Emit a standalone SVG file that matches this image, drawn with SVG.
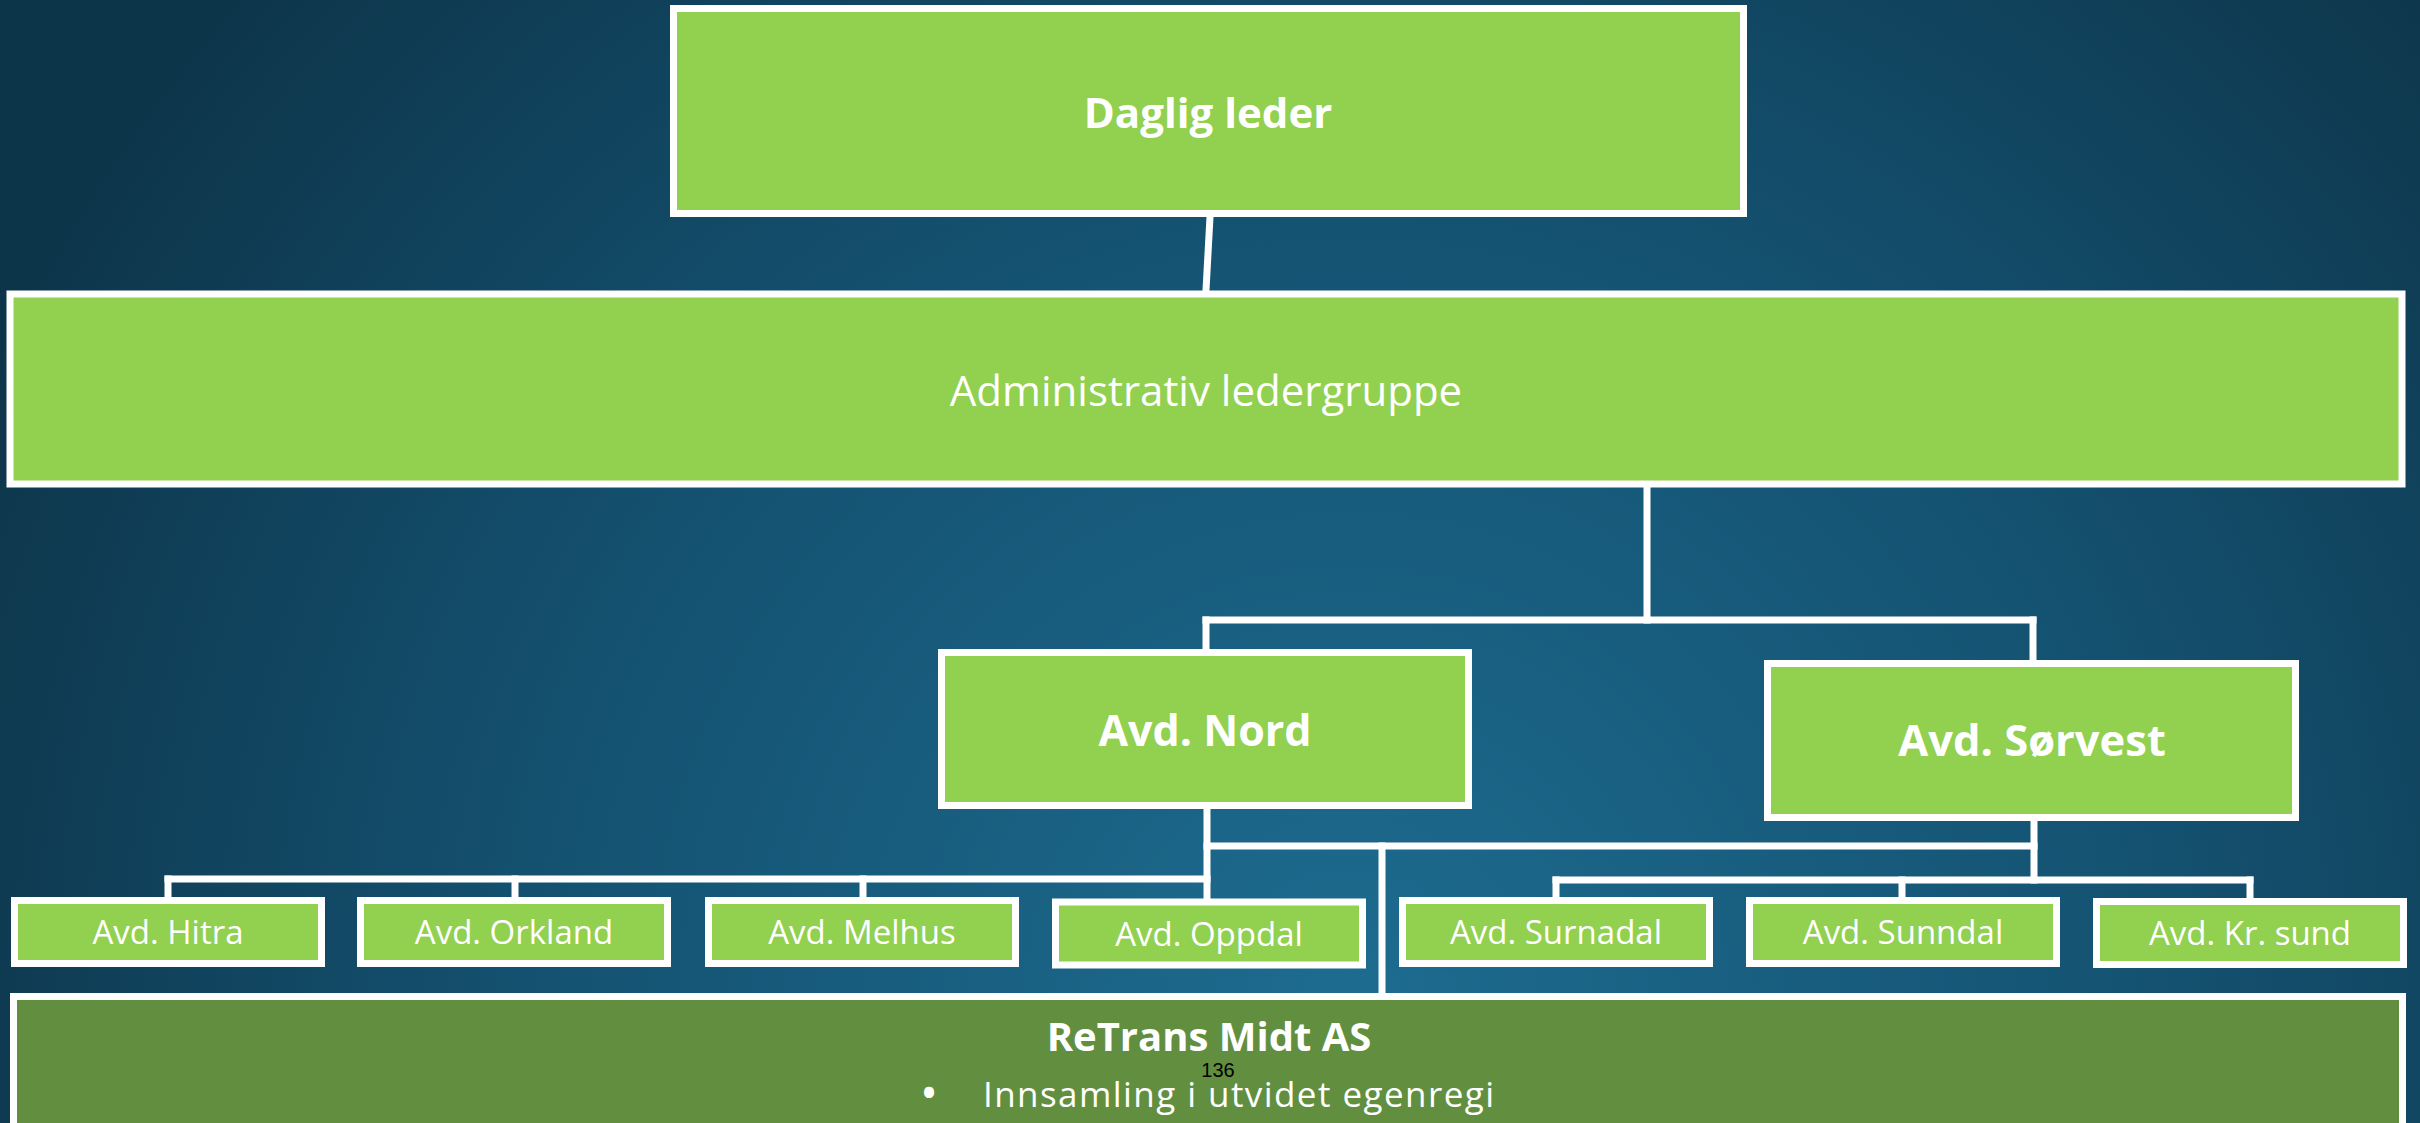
<svg xmlns="http://www.w3.org/2000/svg" width="2420" height="1123" viewBox="0 0 2420 1123">
  <defs>
    <radialGradient id="bg" cx="1350" cy="1000" r="1500" gradientUnits="userSpaceOnUse">
      <stop offset="0" stop-color="#1D6C90"/>
      <stop offset="0.55" stop-color="#145170"/>
      <stop offset="1" stop-color="#0D354A"/>
    </radialGradient>
    <style>
      .box { fill: #92D050; stroke: #FFFFFF; stroke-width: 7; }
      .dark { fill: #618F3F; stroke: #FFFFFF; stroke-width: 7; }
      .conn { stroke: #FFFFFF; stroke-width: 7; fill: none; stroke-linecap: square; }
      .t { font-family: "Open Sans", "Liberation Sans", sans-serif; fill: #FFFFFF; text-anchor: middle; }
      .big { font-size: 42px; }
      .bold { font-weight: 700; }
      .small { font-size: 33px; }
    </style>
  </defs>
  <rect x="0" y="0" width="2420" height="1123" fill="url(#bg)"/>

  <g id="connectors">
    <line class="conn" x1="1210" y1="217" x2="1206" y2="290"/>
    <line class="conn" x1="1647" y1="488" x2="1647" y2="620"/>
    <line class="conn" x1="1206" y1="620" x2="2033" y2="620"/>
    <line class="conn" x1="1206" y1="620" x2="1206" y2="650"/>
    <line class="conn" x1="2033" y1="620" x2="2033" y2="660"/>
    <line class="conn" x1="1207" y1="809" x2="1207" y2="898"/>
    <line class="conn" x1="1207" y1="846" x2="2034" y2="846"/>
    <line class="conn" x1="2034" y1="821" x2="2034" y2="880"/>
    <line class="conn" x1="1556" y1="880" x2="2250" y2="880"/>
    <line class="conn" x1="1556" y1="880" x2="1556" y2="897"/>
    <line class="conn" x1="1902" y1="880" x2="1902" y2="897"/>
    <line class="conn" x1="2250" y1="880" x2="2250" y2="897"/>
    <line class="conn" x1="1382" y1="846" x2="1382" y2="994"/>
    <line class="conn" x1="168" y1="879" x2="1207" y2="879"/>
    <line class="conn" x1="168" y1="879" x2="168" y2="897"/>
    <line class="conn" x1="515" y1="879" x2="515" y2="897"/>
    <line class="conn" x1="863" y1="879" x2="863" y2="897"/>
  </g>

  <g id="daglig-leder">
    <rect class="box" x="673.5" y="8.5" width="1070" height="205"/>
    <text class="t big bold" x="1208" y="128">Daglig leder</text>
  </g>
  <g id="admin">
    <rect class="box" x="10" y="294" width="2392" height="190"/>
    <text class="t big" x="1206" y="406">Administrativ ledergruppe</text>
  </g>
  <g id="avd-nord">
    <rect class="box" x="941.5" y="652.5" width="527" height="153"/>
    <text class="t bold" font-size="43" x="1205" y="746">Avd. Nord</text>
  </g>
  <g id="avd-sorvest">
    <rect class="box" x="1767.5" y="663.5" width="528" height="154"/>
    <text class="t bold" font-size="43.5" x="2032" y="756">Avd. Sørvest</text>
  </g>
  <g id="avd-hitra">
    <rect class="box" x="14.5" y="900.5" width="307" height="63"/>
    <text class="t small" x="168" y="944">Avd. Hitra</text>
  </g>
  <g id="avd-orkland">
    <rect class="box" x="360.5" y="900.5" width="307" height="63"/>
    <text class="t small" x="514" y="944">Avd. Orkland</text>
  </g>
  <g id="avd-melhus">
    <rect class="box" x="708.5" y="900.5" width="307" height="63"/>
    <text class="t small" x="862" y="944">Avd. Melhus</text>
  </g>
  <g id="avd-oppdal">
    <rect class="box" x="1055.5" y="902" width="307" height="63"/>
    <text class="t small" x="1209" y="946">Avd. Oppdal</text>
  </g>
  <g id="avd-surnadal">
    <rect class="box" x="1402.5" y="900.5" width="307" height="63"/>
    <text class="t small" x="1556" y="944">Avd. Surnadal</text>
  </g>
  <g id="avd-sunndal">
    <rect class="box" x="1749.5" y="900.5" width="307" height="63"/>
    <text class="t small" x="1903" y="944">Avd. Sunndal</text>
  </g>
  <g id="avd-krsund">
    <rect class="box" x="2096.5" y="901.5" width="307" height="63"/>
    <text class="t small" x="2250" y="945">Avd. Kr. sund</text>
  </g>
  <g id="retrans">
    <rect class="dark" x="13.5" y="996.5" width="2389" height="200"/>
    <text class="t bold" font-size="40" x="1209" y="1051">ReTrans Midt AS</text>
    <text class="t" font-size="48" x="929" y="1110">•</text>
    <text class="t" font-size="35" x="983" y="1107" textLength="511" lengthAdjust="spacing" style="text-anchor:start">Innsamling i utvidet egenregi</text>
    <text x="1218" y="1077" font-family="'Liberation Sans', Arial, sans-serif" font-size="20" fill="#000000" text-anchor="middle">136</text>
  </g>
</svg>
